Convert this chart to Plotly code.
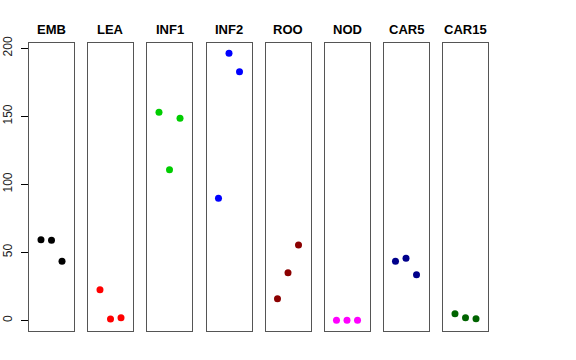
import plotly.graph_objects as go

categories = ["EMB", "LEA", "INF1", "INF2", "ROO", "NOD", "CAR5", "CAR15"]
values = {
    "EMB": [59.3, 58.8, 43.4],
    "LEA": [22.5, 1.0, 1.9],
    "INF1": [152.9, 110.7, 148.5],
    "INF2": [89.7, 196.3, 182.8],
    "ROO": [15.9, 35.0, 55.4],
    "NOD": [0.0, 0.0, 0.0],
    "CAR5": [43.4, 45.6, 33.5],
    "CAR15": [4.9, 1.9, 1.2],
}
colors = ["#000000", "#FF0000", "#00CD00", "#0000FF", "#8B0000", "#FF00FF", "#00008B", "#006400"]
replicates = [1, 2, 3]
y_ticks = [0, 50, 100, 150, 200]

W, H = 576, 360
panel_left = [29, 88, 147, 206.5, 265.5, 324.5, 383.5, 443]
panel_width = 45
top_px, bottom_px = 43, 331

fig = go.Figure()
layout = dict(
    width=W, height=H,
    margin=dict(l=0, r=0, t=0, b=0, autoexpand=False),
    paper_bgcolor="white", plot_bgcolor="white",
    showlegend=False,
    font=dict(family="Liberation Sans, Arial, sans-serif", color="black"),
)
annotations = []
for i, cat in enumerate(categories):
    xa = "x" if i == 0 else f"x{i+1}"
    ya = "y" if i == 0 else f"y{i+1}"
    fig.add_trace(go.Scatter(
        x=replicates, y=values[cat], mode="markers",
        marker=dict(color=colors[i], size=7),
        xaxis=xa, yaxis=ya, hoverinfo="skip",
    ))
    x0 = panel_left[i] / W
    x1 = (panel_left[i] + panel_width) / W
    xkey = "xaxis" if i == 0 else f"xaxis{i+1}"
    ykey = "yaxis" if i == 0 else f"yaxis{i+1}"
    layout[xkey] = dict(
        domain=[x0, x1], anchor=ya, range=[2 - 2.14, 2 + 2.14],
        showgrid=False, zeroline=False, showticklabels=False, ticks="",
        showline=True, mirror=True, linecolor="#555555", linewidth=1,
        automargin=False,
    )
    ydict = dict(
        domain=[1 - bottom_px / H, 1 - top_px / H], anchor=xa,
        range=[-7.84, 203.84],
        showgrid=False, zeroline=False,
        showline=True, mirror=True, linecolor="#555555", linewidth=1,
        automargin=False,
    )
    if i == 0:
        ydict.update(
            tickvals=y_ticks, ticktext=[str(v) for v in y_ticks],
            ticks="outside", ticklen=7, tickcolor="black", tickwidth=1,
            tickangle=-90, tickfont=dict(size=12, color="#222222"),
            showticklabels=True, ticklabelstandoff=4,
        )
    else:
        ydict.update(showticklabels=False, ticks="")
    layout[ykey] = ydict
    annotations.append(dict(
        x=(x0 + x1) / 2, y=1 - 29 / H, xref="paper", yref="paper",
        text=f"<b>{cat}</b>", showarrow=False,
        xanchor="center", yanchor="middle",
        font=dict(size=13, color="black"),
    ))
layout["annotations"] = annotations
fig.update_layout(**layout)
fig.write_html(
    "out.html",
    config={"displayModeBar": False, "staticPlot": True},
    post_script="document.body.style.margin='0';document.body.style.padding='0';",
)
